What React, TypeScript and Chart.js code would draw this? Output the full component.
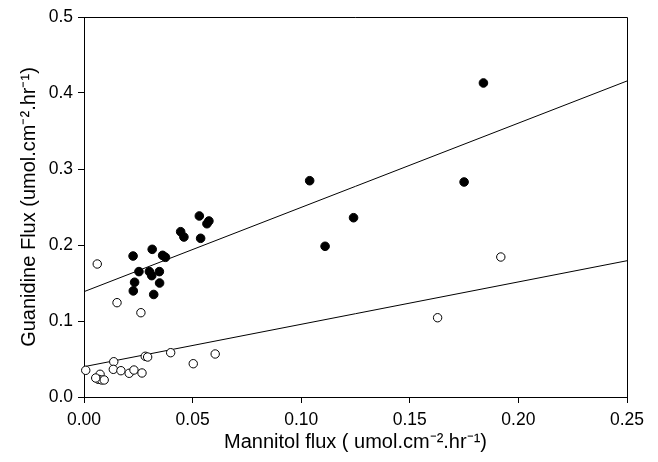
import React, { useEffect, useRef } from "react";
import { Chart, registerables } from "chart.js";

Chart.register(...registerables);

// Filled circles (guanidine vs mannitol flux)
const filledX = [0.0226, 0.0314, 0.0362, 0.0375, 0.0253, 0.0301, 0.0347, 0.0312, 0.0233, 0.0348, 0.0227, 0.0321,
  0.0445, 0.046, 0.0531, 0.0575, 0.0566, 0.0537, 0.1039, 0.111, 0.1241, 0.175, 0.1839];
const filledY = [0.1855, 0.1943, 0.1864, 0.1838, 0.165, 0.165, 0.165, 0.1597, 0.151, 0.15, 0.1396, 0.1349,
  0.2175, 0.2105, 0.2382, 0.2316, 0.228, 0.2088, 0.2846, 0.1983, 0.2359, 0.2829, 0.4132];

// Open circles
const openX = [0.0061, 0.0152, 0.0262, 0.0008, 0.0137, 0.0135, 0.017, 0.0208, 0.023, 0.0267, 0.0282, 0.0293,
  0.0399, 0.0503, 0.0604, 0.1919, 0.1628, 0.0074, 0.0066, 0.0081, 0.0093, 0.0054];
const openY = [0.175, 0.1241, 0.1109, 0.0351, 0.0464, 0.0364, 0.0346, 0.0312, 0.0355, 0.0316, 0.0536, 0.0526,
  0.0583, 0.0438, 0.0566, 0.1842, 0.1043, 0.0299, 0.0233, 0.0224, 0.0224, 0.025];

// Regression line end points
const filledFitX = [0, 0.25];
const filledFitY = [0.1386, 0.4158];
const openFitX = [0, 0.25];
const openFitY = [0.0399, 0.1793];

const xTickLabels = ["0.00", "0.05", "0.10", "0.15", "0.20", "0.25"];
const yTickLabels = ["0.0", "0.1", "0.2", "0.3", "0.4", "0.5"];

const xTitle = "Mannitol flux ( umol.cm\u207B\u00B2.hr\u207B\u00B9)";
const yTitle = "Guanidine Flux (umol.cm\u207B\u00B2.hr\u207B\u00B9)";

const FONT = "'Liberation Sans', Arial, Helvetica, sans-serif";

const pts = (xs: number[], ys: number[]) => xs.map((x, i) => ({ x, y: ys[i] }));

const frame = {
  id: "frame",
  afterDatasetsDraw(chart: any) {
    const { ctx, chartArea } = chart;
    ctx.save();
    ctx.strokeStyle = "#000";
    ctx.lineWidth = 1;
    ctx.beginPath();
    ctx.moveTo(chartArea.left, chartArea.top + 0.5);
    ctx.lineTo(chartArea.right + 0.5, chartArea.top + 0.5);
    ctx.lineTo(chartArea.right + 0.5, chartArea.bottom);
    ctx.stroke();
    ctx.restore();
  },
};

export default function App() {
  const ref = useRef<HTMLCanvasElement | null>(null);
  useEffect(() => {
    if (!ref.current) return;
    const chart = new Chart(ref.current, {
      type: "scatter",
      data: {
        datasets: [
          {
            label: "filled",
            data: pts(filledX, filledY),
            backgroundColor: "#000",
            borderColor: "#000",
            borderWidth: 1,
            pointRadius: 4.3,
            clip: false,
            order: 1,
          },
          {
            label: "open",
            data: pts(openX, openY),
            backgroundColor: "#fff",
            borderColor: "#000",
            borderWidth: 1,
            pointRadius: 4.2,
            clip: false,
            order: 1,
          },
          {
            label: "filled fit",
            type: "line",
            data: pts(filledFitX, filledFitY),
            borderColor: "#000",
            borderWidth: 1,
            pointRadius: 0,
            showLine: true,
            order: 2,
          },
          {
            label: "open fit",
            type: "line",
            data: pts(openFitX, openFitY),
            borderColor: "#000",
            borderWidth: 1,
            pointRadius: 0,
            showLine: true,
            order: 2,
          },
        ] as any,
      },
      options: {
        animation: false,
        responsive: true,
        maintainAspectRatio: false,
        layout: { padding: { top: 17, right: 31, left: 0, bottom: 0 } },
        plugins: { legend: { display: false }, tooltip: { enabled: false } },
        scales: {
          x: {
            type: "linear",
            min: 0,
            max: 0.25,
            afterFit: (s: any) => { s.height = 65; },
            ticks: {
              stepSize: 0.05,
              color: "#000",
              padding: 7,
              font: { family: FONT, size: 17.5 },
              callback: (_v: any, i: number) => xTickLabels[i],
            },
            grid: { display: true, drawOnChartArea: false, drawTicks: true, tickLength: 6, color: "#000" },
            border: { display: true, color: "#000", width: 1 },
            title: {
              display: true,
              text: xTitle,
              color: "#000",
              font: { family: FONT, size: 20 },
              padding: { top: 0, bottom: 8 },
            },
          },
          y: {
            type: "linear",
            min: 0,
            max: 0.5,
            afterFit: (s: any) => { s.width = 84; },
            ticks: {
              stepSize: 0.1,
              color: "#000",
              padding: 5,
              font: { family: FONT, size: 17.5 },
              callback: (_v: any, i: number) => yTickLabels[i],
            },
            grid: { display: true, drawOnChartArea: false, drawTicks: true, tickLength: 6, color: "#000" },
            border: { display: true, color: "#000", width: 1 },
            title: {
              display: true,
              text: yTitle,
              color: "#000",
              font: { family: FONT, size: 20 },
              padding: { top: 17, bottom: 0 },
            },
          },
        },
      },
      plugins: [frame],
    } as any);
    return () => chart.destroy();
  }, []);
  return (
    <div style={{ position: "absolute", left: 0, top: 0, width: 658, height: 462, background: "#fff" }}>
      <canvas ref={ref} />
    </div>
  );
}
